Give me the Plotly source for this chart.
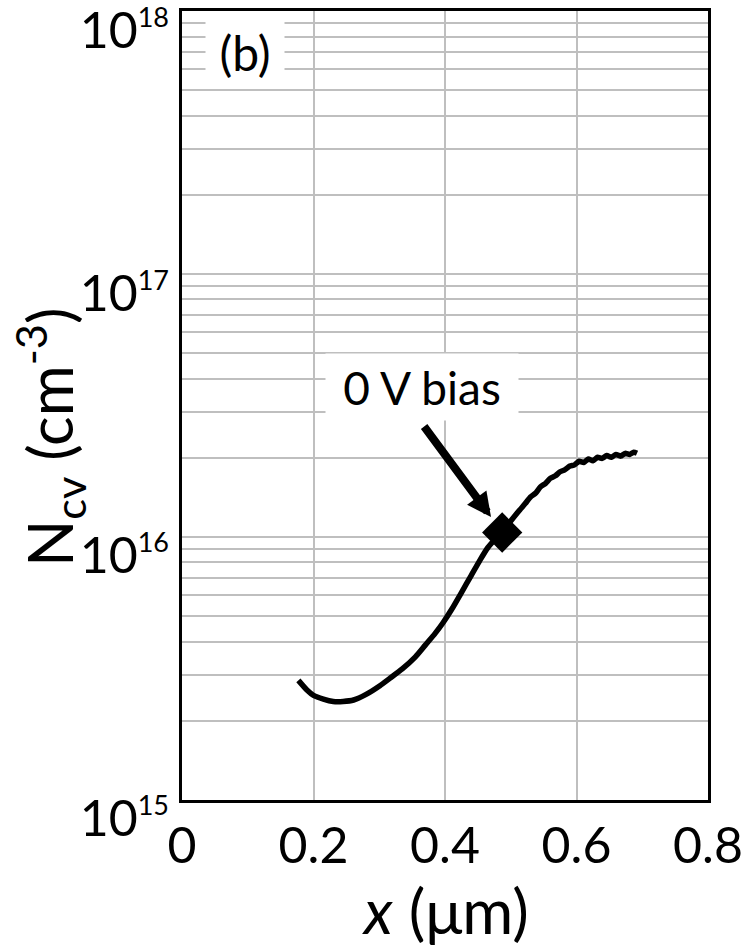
import plotly.graph_objects as go

# ---- data ----
x_um = [0.177, 0.19, 0.20, 0.215, 0.23, 0.245, 0.261, 0.28, 0.301, 0.316, 0.335, 0.355,
        0.37, 0.385, 0.397, 0.41, 0.425, 0.44, 0.453, 0.465, 0.478, 0.487, 0.50, 0.507,
        0.514, 0.522, 0.53, 0.538, 0.545, 0.553, 0.56, 0.568, 0.575, 0.582, 0.59, 0.597,
        0.604, 0.611, 0.618, 0.625, 0.632, 0.639, 0.646, 0.653, 0.66, 0.667, 0.674, 0.681,
        0.687, 0.692]
n_cv = [2.85e15, 2.62e15, 2.50e15, 2.42e15, 2.37e15, 2.37e15, 2.40e15, 2.52e15, 2.72e15,
        2.90e15, 3.15e15, 3.50e15, 3.88e15, 4.30e15, 4.72e15, 5.30e15, 6.15e15, 7.15e15,
        8.15e15, 9.10e15, 9.90e15, 1.04e16, 1.15e16, 1.21e16, 1.27e16, 1.34e16, 1.42e16,
        1.47e16, 1.55e16, 1.60e16, 1.67e16, 1.71e16, 1.77e16, 1.80e16, 1.86e16, 1.88e16,
        1.94e16, 1.92e16, 1.98e16, 1.95e16, 2.01e16, 1.99e16, 2.04e16, 2.01e16, 2.06e16,
        2.03e16, 2.08e16, 2.06e16, 2.10e16, 2.08e16]

bias_x = [0.487]
bias_y = [1.04e16]

x_ticks = [0, 0.2, 0.4, 0.6, 0.8]
x_ticktext = ["0", "0.2", "0.4", "0.6", "0.8"]
y_ticks = [1e15, 1e16, 1e17, 1e18]
y_exps = ["15", "16", "17", "18"]
minor_vals = [m * 10 ** e for e in (15, 16, 17) for m in range(2, 10)]

FONT = "Lato, Arial, sans-serif"
GRID = "#bfbfbf"

fig = go.Figure()
fig.add_trace(go.Scatter(x=x_um, y=n_cv, mode="lines",
                         line=dict(color="black", width=5.5, shape="spline", smoothing=0.6),
                         showlegend=False))
fig.add_trace(go.Scatter(x=bias_x, y=bias_y, mode="markers",
                         marker=dict(symbol="diamond", size=31, color="black"),
                         showlegend=False))

fig.update_layout(
    width=749, height=946,
    margin=dict(l=182, r=41, t=11, b=146),
    paper_bgcolor="white", plot_bgcolor="white",
    font=dict(family=FONT, color="black"),
    xaxis=dict(range=[0, 0.8], tickvals=x_ticks, ticktext=x_ticktext, automargin=False,
               showgrid=True, gridcolor=GRID, gridwidth=2,
               showline=True, linecolor="black", linewidth=3, mirror=True,
               ticks="", zeroline=False, tickfont=dict(size=50, family=FONT)),
    yaxis=dict(type="log", range=[14.9999, 18.0001], tickvals=y_ticks, automargin=False,
               ticktext=["10<sup><span style='font-size:27px'>%s</span></sup>" % e for e in y_exps],
               ticklabeloverflow="allow", ticklabelshift=19,
               showgrid=True, gridcolor=GRID, gridwidth=2,
               minor=dict(tickvals=minor_vals, showgrid=True, gridcolor=GRID, gridwidth=2, ticks=""),
               showline=True, linecolor="black", linewidth=3, mirror=True,
               ticks="", zeroline=False, tickfont=dict(size=50, family=FONT)),
)

# panel label
fig.add_annotation(x=0.096, y=17.844, xref="x", yref="y", text="(b)", showarrow=False,
                   font=dict(size=48, family=FONT), bgcolor="white", width=76, height=62)
# bias label
fig.add_annotation(x=0.365, y=16.57, xref="x", yref="y", text="0 V bias", showarrow=False,
                   font=dict(size=46, family=FONT), bgcolor="white", width=190, height=64)
# arrow
fig.add_annotation(x=0.470, y=16.076, xref="x", yref="y", ax=-68, ay=-92, text="",
                   showarrow=True, arrowhead=2, arrowsize=0.6, arrowwidth=8,
                   arrowcolor="black", standoff=0)
# axis titles
fig.add_annotation(x=-0.253, y=0.46, xref="paper", yref="paper", xanchor="center", yanchor="middle",
                   text="N<sub>cv</sub> (cm<sup>-3</sup>)", textangle=-90, showarrow=False,
                   font=dict(size=62, family=FONT))
fig.add_annotation(x=0.5, y=-0.139, xref="paper", yref="paper", xanchor="center", yanchor="middle",
                   text="<i>x</i> (μm)", showarrow=False, font=dict(size=62, family=FONT))

fig.write_html("out.html")
